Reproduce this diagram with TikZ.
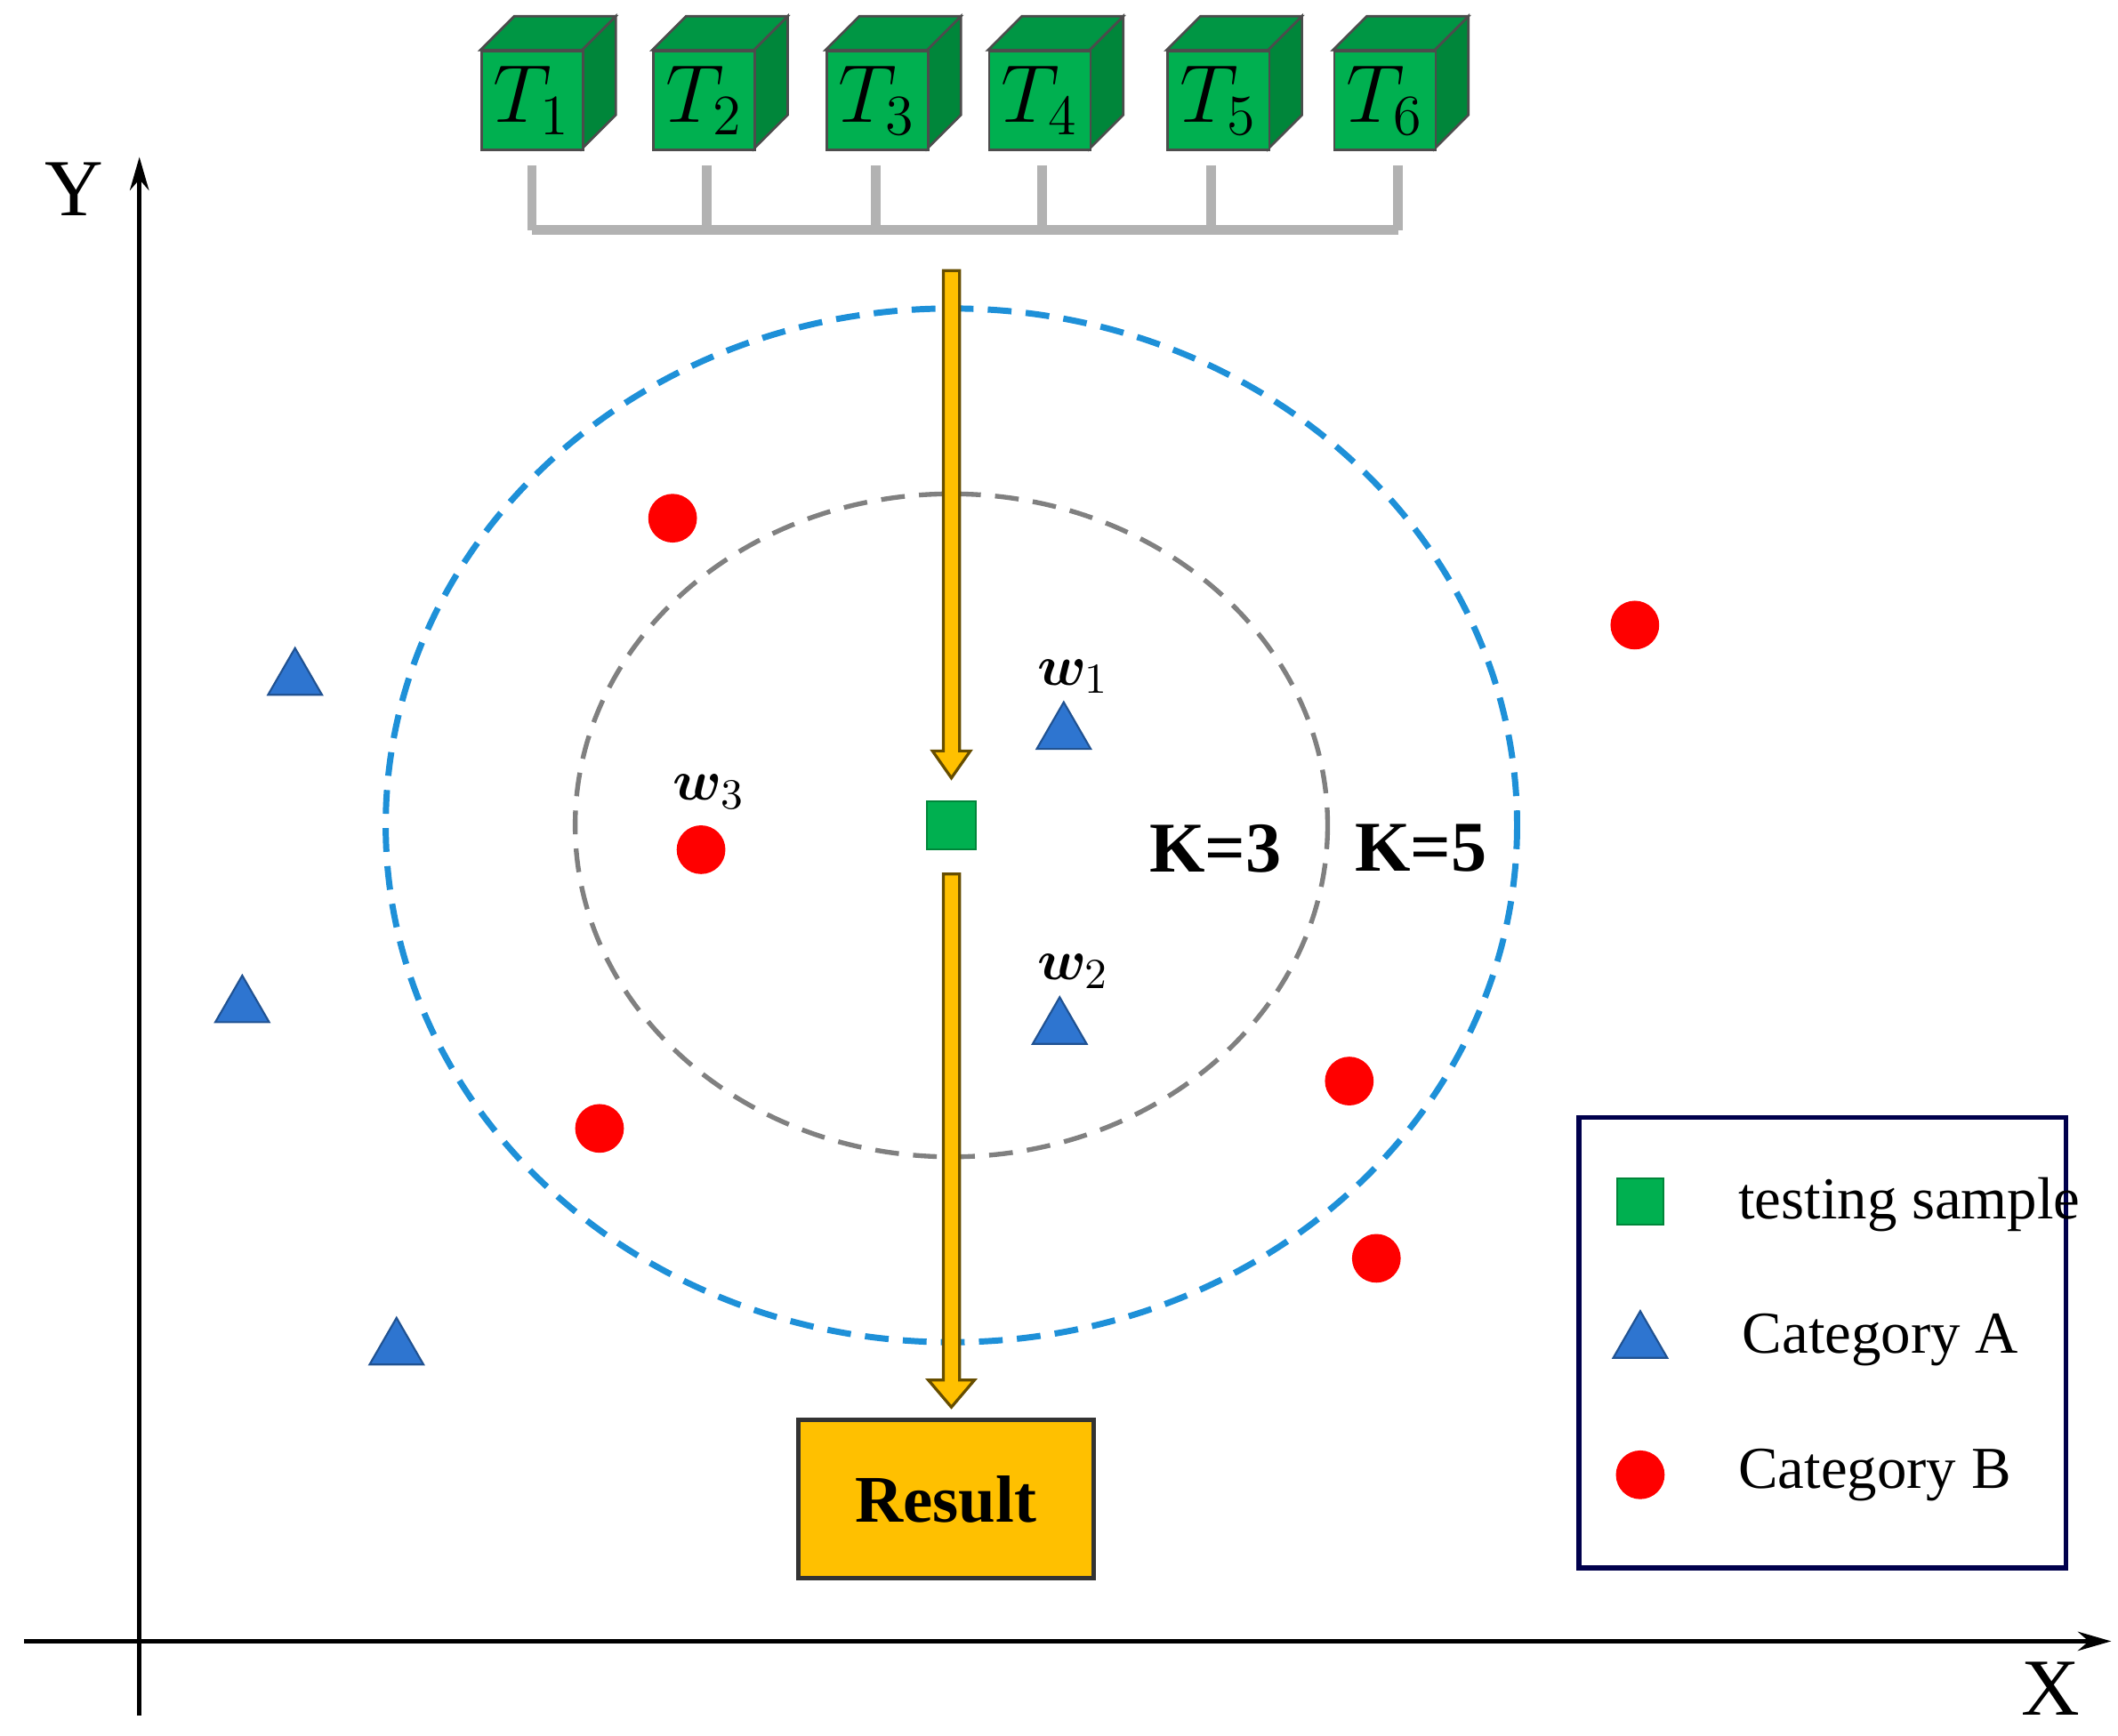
\documentclass[tikz,border=0pt]{standalone}
\usepackage{amsmath,bm}
\usepackage{fontspec}
\setmainfont{Liberation Serif}
\usetikzlibrary{arrows.meta,shapes.geometric}
\definecolor{cgreen}{HTML}{00B050}
\definecolor{cdgreen}{HTML}{00863A}
\definecolor{cblue}{HTML}{2E75D0}
\definecolor{cred}{HTML}{FF0000}
\definecolor{cyel}{HTML}{FFC000}
\definecolor{cdash}{HTML}{1E90D8}
\begin{document}
\begin{tikzpicture}[x=0.01cm,y=-0.01cm,
  tri/.style={draw=cblue!70!black,fill=cblue,regular polygon,regular polygon sides=3,inner sep=0pt,minimum size=46*0.01cm},
  dot/.style={circle,fill=cred,inner sep=0pt,minimum size=36*0.01cm},
  sq/.style={rectangle,draw=cdgreen,fill=cgreen,inner sep=0pt,minimum size=36*0.01cm},
  yarrow/.style={draw=black!60!cyel,fill=cyel,line width=0.6pt},
  lbl/.style={font=\fontsize{12.5}{14}\selectfont}]
\useasboundingbox (0,0) rectangle (1565,1283);
% axes
\coordinate (yb) at (103,1268); \coordinate (yt) at (103,116);
\coordinate (xl) at (18,1213); \coordinate (xr) at (1560,1213);
\draw[-{Stealth[length=7pt,width=4pt]},line width=0.9pt] (yb) -- (yt);
\draw[-{Stealth[length=7pt,width=4pt]},line width=0.9pt] (xl) -- (xr);
\node[font=\fontsize{17}{19}\selectfont] (Y) at (55,140) {Y};
\node[font=\fontsize{17}{19}\selectfont] (X) at (1515,1248) {X};
% cubes
\foreach \i/\x in {1/355,2/482,3/610,4/730,5/862,6/985}{
  \fill[cdgreen,draw=black!70,line width=0.5pt] (\x+75,37) -- (\x+100,12) -- (\x+100,85) -- (\x+75,110) -- cycle;
  \fill[cgreen!85!black,draw=black!70,line width=0.5pt] (\x,37) -- (\x+25,12) -- (\x+100,12) -- (\x+75,37) -- cycle;
  \node[draw=black!70,fill=cgreen,line width=0.5pt,minimum width=75*0.01cm,minimum height=73*0.01cm,inner sep=0pt,anchor=north west,font=\fontsize{17}{19}\selectfont] (T\i) at (\x,37) {$T_{\i}$};
}
% bracket
\foreach \i/\x in {1/393,2/522,3/647,4/770,5/895,6/1033}{
  \coordinate (b\i) at (\x,170);
  \draw[gray!60,line width=2pt] (\x,122) -- (b\i);
}
\draw[gray!60,line width=2pt] (b1) -- (b6);
% ellipses
\draw[cdash,line width=1.3pt,dash pattern=on 5pt off 3pt] (703,610) ellipse (418 and 382);
\draw[gray,line width=1pt,dash pattern=on 5pt off 3pt] (703,610) ellipse (278 and 245);
% yellow arrows
\draw[yarrow] (697,200) -- (709,200) -- (709,555) -- (717,555) -- (703,575) -- (689,555) -- (697,555) -- cycle;
\draw[yarrow] (697,646) -- (709,646) -- (709,1020) -- (720,1020) -- (703,1040) -- (686,1020) -- (697,1020) -- cycle;
% testing sample
\node[sq] (ts) at (703,610) {};
% result
\node[draw=black!80,fill=cyel,line width=1pt,minimum width=218*0.01cm,minimum height=117*0.01cm,font=\bfseries\fontsize{14}{16}\selectfont] (res) at (699,1108) {Result};
% points
\node[dot] (r1) at (497,383) {};
\node[dot] (r2) at (1208,462) {};
\node[dot] (r3) at (518,628) {};
\node[dot] (r4) at (443,834) {};
\node[dot] (r5) at (997,799) {};
\node[dot] (r6) at (1017,930) {};
\node[tri] (a1) at (218,502) {};
\node[tri] (a2) at (786,542) {};
\node[tri] (a3) at (179,744) {};
\node[tri] (a4) at (783,760) {};
\node[tri] (a5) at (293,997) {};
% labels
\node[font=\fontsize{13}{15}\selectfont] (w1) at (793,500) {$\bm{w}_1$};
\node[font=\fontsize{13}{15}\selectfont] (w2) at (793,718) {$\bm{w}_2$};
\node[font=\fontsize{13}{15}\selectfont] (w3) at (524,585) {$\bm{w}_3$};
\node[font=\bfseries\fontsize{15}{17}\selectfont] (k3) at (898,627) {K=3};
\node[font=\bfseries\fontsize{15}{17}\selectfont] (k5) at (1050,627) {K=5};
% legend
\node[draw=blue!30!black,line width=1pt,minimum width=360*0.01cm,minimum height=333*0.01cm,inner sep=0pt,anchor=north west] (leg) at (1165,824) {};
\node[sq,minimum size=34*0.01cm] (l1) at (1212,888) {};
\node[tri] (l2) at (1212,992) {};
\node[dot] (l3) at (1212,1090) {};
\node[lbl,anchor=west] (t1) at (1272,890) {testing sample};
\node[lbl,anchor=west] (t2) at (1275,990) {Category A};
\node[lbl,anchor=west] (t3) at (1272,1090) {Category B};
\end{tikzpicture}
\end{document}
